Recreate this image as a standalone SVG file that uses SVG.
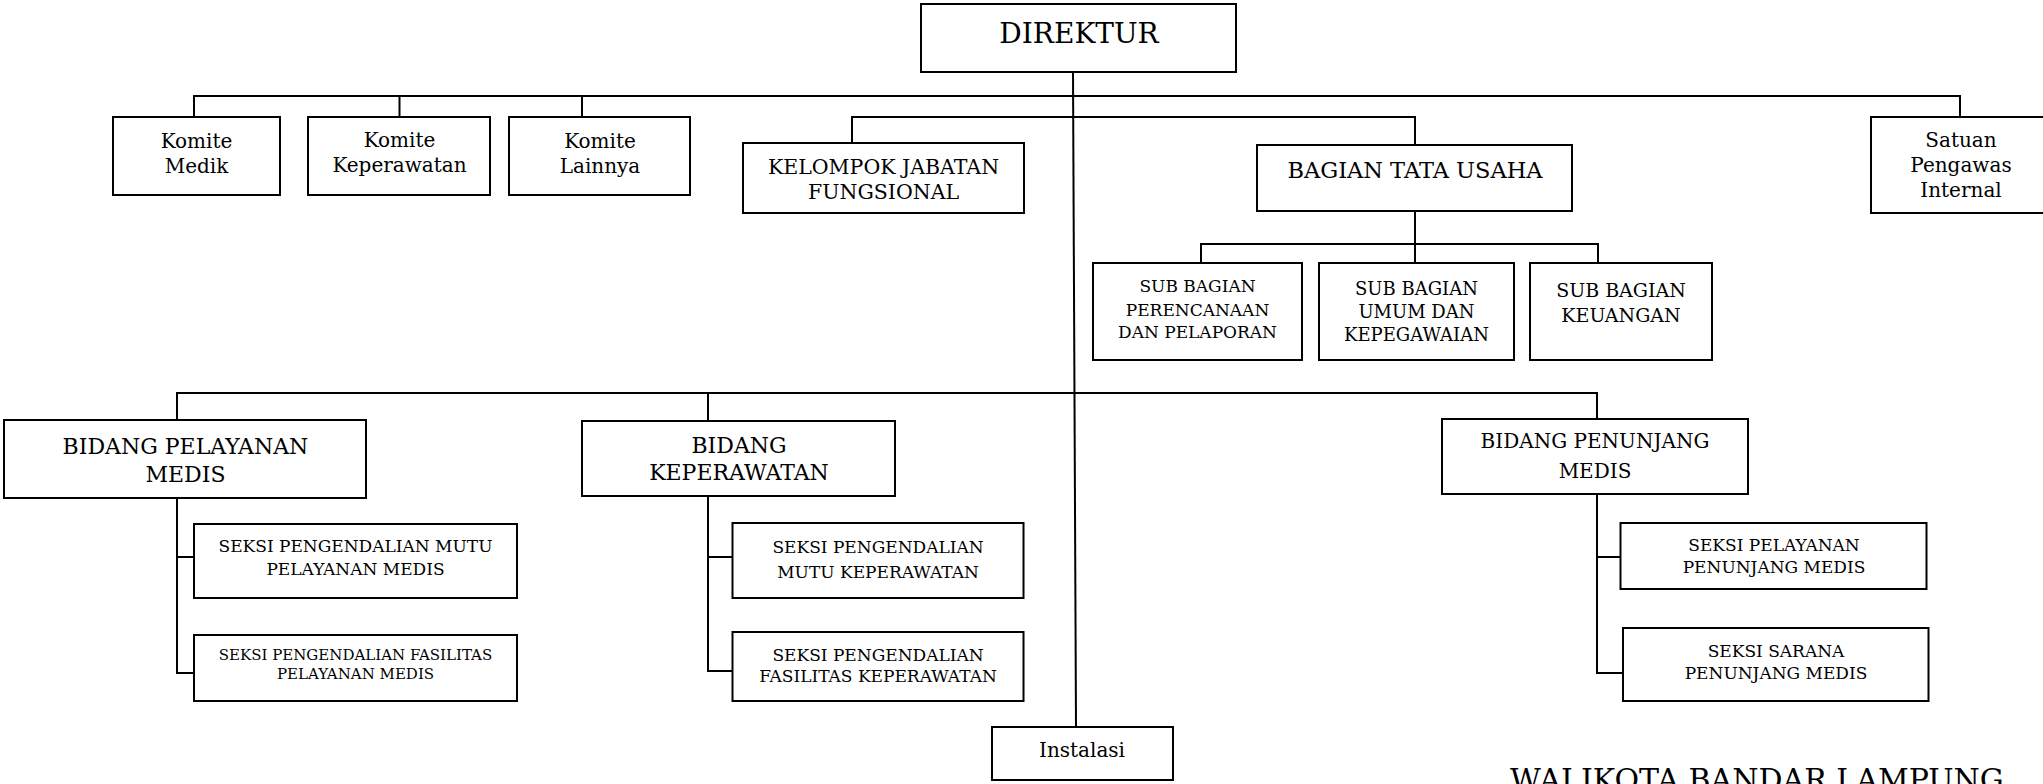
<svg xmlns="http://www.w3.org/2000/svg" width="2043" height="784" viewBox="0 0 2043 784">
<style>
.box{fill:#fff;stroke:#000;stroke-width:2}
.ln{fill:none;stroke:#000;stroke-width:2}
text{font-family:"DejaVu Serif","Liberation Serif",serif;fill:#000;text-anchor:middle}
.f28{font-size:28px}.f22{font-size:22px}.f21{font-size:21px}.f20{font-size:20px}.f19{font-size:19px}.f18{font-size:18px}.f17{font-size:17px}.f15{font-size:15px}
.kel{font-size:20.5px}.btu{font-size:22.5px}
.wk{font-size:30px;text-anchor:start}
</style>
<rect width="2043" height="784" fill="#fff"/>
<g id="connectors">
<path class="ln" d="M1073,72 L1076,727"/>
<path class="ln" d="M194,117 V96 H1960 V117"/>
<path class="ln" d="M399.5,96 V120"/>
<path class="ln" d="M582,96 V117"/>
<path class="ln" d="M852,143 V117 H1415 V145"/>
<path class="ln" d="M1415,211 V263"/>
<path class="ln" d="M1201,263 V244 H1598 V263"/>
<path class="ln" d="M177,420 V393 H1597 V419"/>
<path class="ln" d="M708,393 V421"/>
<path class="ln" d="M177,498 V673 H194"/>
<path class="ln" d="M177,557 H194"/>
<path class="ln" d="M708,496 V671 H732"/>
<path class="ln" d="M708,557 H732"/>
<path class="ln" d="M1597,494 V673 H1623"/>
<path class="ln" d="M1597,557 H1624"/>
</g>
<g id="direktur"><rect class="box" x="921" y="4" width="315" height="68"/><text class="f28" x="1079" y="43">DIREKTUR</text></g>
<g id="komite-medik"><rect class="box" x="113" y="117" width="167" height="78"/><text class="f20" x="196.5" y="148">Komite</text><text class="f20" x="196.5" y="173">Medik</text></g>
<g id="komite-keperawatan"><rect class="box" x="308" y="117" width="182" height="78"/><text class="f20" x="399.5" y="147">Komite</text><text class="f20" x="399.5" y="172">Keperawatan</text></g>
<g id="komite-lainnya"><rect class="box" x="509" y="117" width="181" height="78"/><text class="f20" x="600" y="148">Komite</text><text class="f20" x="600" y="173">Lainnya</text></g>
<g id="kelompok"><rect class="box" x="743" y="143" width="281" height="70"/><text class="kel" x="883.5" y="174">KELOMPOK JABATAN</text><text class="kel" x="883.5" y="199">FUNGSIONAL</text></g>
<g id="bagian-tu"><rect class="box" x="1257" y="145" width="315" height="66"/><text class="btu" x="1415" y="178">BAGIAN TATA USAHA</text></g>
<g id="satuan"><rect class="box" x="1871" y="117" width="180" height="96"/><text class="f20" x="1961" y="147">Satuan</text><text class="f20" x="1961" y="172">Pengawas</text><text class="f20" x="1961" y="197">Internal</text></g>
<g id="sub-perencanaan"><rect class="box" x="1093" y="263" width="209" height="97"/><text class="f17" x="1197.5" y="292">SUB BAGIAN</text><text class="f17" x="1197.5" y="315.5">PERENCANAAN</text><text class="f17" x="1197.5" y="338">DAN PELAPORAN</text></g>
<g id="sub-umum"><rect class="box" x="1319" y="263" width="195" height="97"/><text class="f18" x="1416.5" y="295">SUB BAGIAN</text><text class="f18" x="1416.5" y="318">UMUM DAN</text><text class="f18" x="1416.5" y="341">KEPEGAWAIAN</text></g>
<g id="sub-keuangan"><rect class="box" x="1530" y="263" width="182" height="97"/><text class="f19" x="1621" y="297">SUB BAGIAN</text><text class="f19" x="1621" y="322">KEUANGAN</text></g>
<g id="bidang-pelayanan"><rect class="box" x="4" y="420" width="362" height="78"/><text class="f22" x="185.5" y="454">BIDANG PELAYANAN</text><text class="f22" x="185.5" y="481.5">MEDIS</text></g>
<g id="bidang-keperawatan"><rect class="box" x="582" y="421" width="313" height="75"/><text class="f22" x="739" y="453">BIDANG</text><text class="f22" x="739" y="480">KEPERAWATAN</text></g>
<g id="bidang-penunjang"><rect class="box" x="1442" y="419" width="306" height="75"/><text class="f20" x="1595" y="448">BIDANG PENUNJANG</text><text class="f20" x="1595" y="478">MEDIS</text></g>
<g id="seksi-mutu-pm"><rect class="box" x="194" y="524" width="323" height="74"/><text class="f17" x="355.5" y="551.5">SEKSI PENGENDALIAN MUTU</text><text class="f17" x="355.5" y="575">PELAYANAN MEDIS</text></g>
<g id="seksi-fasilitas-pm"><rect class="box" x="194" y="635" width="323" height="66"/><text class="f15" x="355.5" y="660">SEKSI PENGENDALIAN FASILITAS</text><text class="f15" x="355.5" y="679">PELAYANAN MEDIS</text></g>
<g id="seksi-mutu-kep"><rect class="box" x="732.5" y="523" width="291" height="75"/><text class="f17" x="878" y="552.5">SEKSI PENGENDALIAN</text><text class="f17" x="878" y="577.5">MUTU KEPERAWATAN</text></g>
<g id="seksi-fasilitas-kep"><rect class="box" x="732.5" y="632" width="291" height="69"/><text class="f17" x="878" y="661">SEKSI PENGENDALIAN</text><text class="f17" x="878" y="682">FASILITAS KEPERAWATAN</text></g>
<g id="seksi-pelayanan-pen"><rect class="box" x="1620.5" y="523" width="306" height="66"/><text class="f17" x="1774" y="551">SEKSI PELAYANAN</text><text class="f17" x="1774" y="572.5">PENUNJANG MEDIS</text></g>
<g id="seksi-sarana-pen"><rect class="box" x="1623" y="628" width="305.5" height="73"/><text class="f17" x="1776" y="656.5">SEKSI SARANA</text><text class="f17" x="1776" y="678.5">PENUNJANG MEDIS</text></g>
<g id="instalasi"><rect class="box" x="992" y="727" width="181" height="53"/><text class="f20" x="1082" y="757">Instalasi</text></g>
<g id="walikota"><text class="wk" x="1510" y="790">WALIKOTA BANDAR LAMPUNG</text></g>
</svg>
